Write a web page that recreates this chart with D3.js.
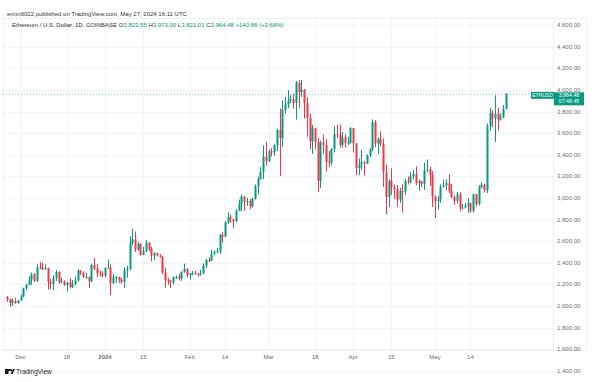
<!DOCTYPE html>
<html>
<head>
<meta charset="utf-8">
<script src="https://cdn.jsdelivr.net/npm/d3@7"></script>
<style>
  html, body { margin: 0; padding: 0; background: #fff; }
  svg { display: block; font-family: "Liberation Sans", Arial, sans-serif; }
</style>
</head>
<body>
<div id="chart-container"></div>
<script>
// daily candles, Nov 26 2023 -> May 27 2024
const firstDay = "2023-11-26";
const lastDay = "2024-05-27";

const opens = [
  2083, 2063, 2027, 2048, 2029,
  2052, 2088, 2165, 2194, 2243, 2293, 2233, 2358, 2357, 2341, 2352, 2225, 2203, 2260, 2316, 2220,
  2228, 2195, 2218, 2177, 2200, 2238, 2326, 2307, 2270, 2270, 2231, 2379, 2347, 2300, 2293,
  2282, 2352, 2356, 2210, 2268, 2268, 2240, 2222, 2330, 2344, 2585, 2617, 2522, 2576, 2472,
  2511, 2587, 2528, 2467, 2490, 2469, 2455, 2313, 2239, 2235, 2218, 2267, 2268, 2256, 2317, 2343,
  2283, 2304, 2309, 2297, 2290, 2301, 2373, 2425, 2420, 2486, 2503, 2506, 2659, 2642, 2777,
  2823, 2804, 2785, 2881, 2944, 3014, 2966, 2971, 2922, 2993, 3112, 3176, 3243, 3385,
  3340, 3432, 3421, 3488, 3630, 3554, 3817, 3868, 3900, 3915, 3880, 4067, 3981, 4004, 3882,
  3741, 3525, 3645, 3519, 3160, 3516, 3492, 3334, 3330, 3454, 3590, 3585, 3492, 3561, 3508, 3508,
  3647, 3505, 3278, 3310, 3330, 3318, 3395, 3450, 3703, 3505, 3545, 3503, 3240, 3010, 3156,
  3100, 3083, 2985, 3065, 3058, 3156, 3147, 3200, 3220, 3140, 3156, 3130, 3255, 3263, 3215,
  3014, 2970, 2988, 3103, 3118, 3137, 3062, 3008, 2973, 3035, 2910, 2912, 2930, 2950, 2882,
  3034, 2945, 3094, 3123, 3072, 3664, 3788, 3737, 3779, 3727, 3747, 3823.55
];
const highs = [
  2092, 2070, 2068, 2074, 2054,
  2107, 2169, 2205, 2275, 2309, 2307, 2385, 2405, 2403, 2386, 2355, 2249, 2286, 2333, 2322,
  2263, 2238, 2222, 2257, 2240, 2272, 2344, 2333, 2321, 2309, 2272, 2392, 2445, 2387, 2325, 2322,
  2357, 2431, 2387, 2295, 2278, 2272, 2260, 2357, 2372, 2645, 2715, 2690, 2595, 2580, 2547,
  2613, 2590, 2547, 2500, 2493, 2480, 2465, 2353, 2260, 2240, 2273, 2281, 2298, 2320, 2392, 2350,
  2306, 2323, 2327, 2306, 2334, 2394, 2436, 2450, 2523, 2515, 2538, 2666, 2687, 2784, 2868,
  2848, 2808, 2895, 2985, 3033, 3016, 3001, 2991, 3000, 3125, 3198, 3288, 3487, 3521,
  3450, 3461, 3497, 3640, 3829, 3905, 3937, 3998, 3952, 3966, 4082, 4092, 4093, 4009, 3932,
  3781, 3678, 3651, 3554, 3531, 3587, 3545, 3437, 3460, 3664, 3676, 3680, 3610, 3590, 3567, 3655,
  3650, 3507, 3367, 3445, 3342, 3405, 3463, 3728, 3721, 3563, 3617, 3552, 3308, 3171, 3275,
  3125, 3120, 3094, 3127, 3175, 3198, 3239, 3260, 3292, 3172, 3160, 3328, 3356, 3289, 3250,
  3024, 3015, 3125, 3170, 3172, 3220, 3129, 3023, 3057, 3053, 2945, 2955, 2998, 2958, 3040,
  3041, 3120, 3145, 3130, 3690, 3835, 3815, 3950, 3835, 3783, 3860, 3973
];
const lows = [
  2037, 1992, 2001, 2020, 2020,
  2050, 2084, 2148, 2192, 2198, 2221, 2224, 2343, 2332, 2335, 2151, 2158, 2145, 2233, 2205,
  2212, 2187, 2135, 2162, 2166, 2193, 2227, 2287, 2261, 2250, 2168, 2221, 2334, 2268, 2273, 2265,
  2265, 2350, 2100, 2205, 2215, 2212, 2205, 2166, 2263, 2331, 2562, 2500, 2511, 2465, 2471,
  2500, 2508, 2415, 2427, 2458, 2448, 2297, 2168, 2197, 2168, 2200, 2249, 2237, 2234, 2309, 2264,
  2244, 2284, 2289, 2271, 2282, 2296, 2351, 2408, 2416, 2470, 2490, 2482, 2587, 2637, 2762,
  2768, 2720, 2778, 2880, 2877, 2880, 2926, 2895, 2911, 2985, 3037, 3172, 3175, 3300,
  3335, 3384, 3393, 3434, 3206, 3473, 3782, 3831, 3880, 3826, 3726, 3835, 3936, 3735, 3567,
  3451, 3408, 3451, 3056, 3092, 3410, 3245, 3288, 3302, 3421, 3555, 3465, 3468, 3466, 3490, 3505,
  3423, 3211, 3212, 3261, 3208, 3314, 3380, 3432, 3472, 3410, 3480, 3101, 2850, 2915, 3030,
  2994, 2920, 2955, 2866, 3030, 3125, 3135, 3175, 3120, 3070, 3100, 3075, 3240, 3110, 2915,
  2813, 2894, 2955, 3095, 3071, 3045, 3000, 2938, 2950, 2875, 2895, 2903, 2864, 2865, 2865,
  2923, 2932, 3090, 3050, 3046, 3622, 3655, 3520, 3625, 3716, 3740, 3821.01
];
const closes = [
  2063, 2027, 2048, 2029, 2052,
  2088, 2165, 2194, 2243, 2293, 2233, 2358, 2357, 2341, 2352, 2225, 2203, 2260, 2316, 2220,
  2228, 2195, 2218, 2177, 2200, 2238, 2326, 2307, 2270, 2270, 2231, 2379, 2347, 2300, 2293, 2282,
  2352, 2356, 2210, 2268, 2268, 2240, 2222, 2330, 2344, 2585, 2617, 2522, 2576, 2472, 2511,
  2587, 2528, 2467, 2490, 2469, 2455, 2313, 2239, 2235, 2218, 2267, 2268, 2256, 2317, 2343, 2283,
  2304, 2309, 2297, 2290, 2301, 2373, 2425, 2420, 2486, 2503, 2506, 2659, 2642, 2777, 2823,
  2804, 2785, 2881, 2944, 3014, 2966, 2971, 2922, 2993, 3112, 3176, 3243, 3385, 3340,
  3432, 3421, 3488, 3630, 3554, 3817, 3868, 3900, 3915, 3880, 4067, 3981, 4004, 3882, 3741,
  3525, 3645, 3519, 3160, 3516, 3492, 3334, 3330, 3454, 3590, 3585, 3492, 3561, 3508, 3508, 3647,
  3505, 3278, 3310, 3330, 3318, 3395, 3450, 3703, 3505, 3545, 3503, 3240, 3010, 3156, 3100,
  3083, 2985, 3065, 3058, 3156, 3147, 3200, 3220, 3140, 3156, 3130, 3255, 3263, 3215, 3014,
  2970, 2988, 3103, 3118, 3137, 3062, 3008, 2973, 3035, 2910, 2912, 2930, 2950, 2882, 3034,
  2945, 3094, 3123, 3072, 3664, 3788, 3737, 3779, 3727, 3747, 3825, 3964.48
];

const priceTicks = [4600, 4400, 4200, 4000, 3800, 3600, 3400, 3200, 3000, 2800, 2600, 2400, 2200, 2000, 1800, 1600, 1400];
const timeTicks = ["2023-12-01", "2023-12-18", "2024-01-01", "2024-01-15", "2024-02-01", "2024-02-14",
                   "2024-03-01", "2024-03-18", "2024-04-01", "2024-04-15", "2024-05-01", "2024-05-14"];
const timeLabels = ["Dec", "18", "2024", "15", "Feb", "14", "Mar", "18", "Apr", "15", "May", "14"];

const headerLine = "ermn6022 published on TradingView.com, May 27, 2024 16:11 UTC";
const symbolName = "Ethereum / U.S. Dollar, 1D, COINBASE";
const ohlcLabels = [["O", "3,823.55"], ["H", "3,973.00"], ["L", "3,821.01"], ["C", "3,964.48"]];
const changeText = "+140.88 (+3.68%)";
const lastPrice = 3964.48;
const countdown = "07:48:45";

const up = "#089981";
const down = "#f23645";

const width = 600;
const height = 382;
const plotLeft = 3, plotRight = 553, plotTop = 18, plotBottom = 350;

const parse = d3.utcParse("%Y-%m-%d");
const days = d3.utcDay.range(parse(firstDay), d3.utcDay.offset(parse(lastDay), 1));
const data = days.map((d, i) => ({ date: d, o: opens[i], h: highs[i], l: lows[i], c: closes[i] }));

const x = d3.scaleUtc()
  .domain([parse("2023-12-01"), parse("2024-05-01")])
  .range([20.5, 435]);

const y = d3.scaleLinear()
  .domain([4000, 2000])
  .range([90, 306]);

const svg = d3.select("#chart-container")
  .append("svg")
  .attr("width", width)
  .attr("height", height);

// grid
const grid = svg.append("g");
grid.selectAll("line.h")
  .data(priceTicks)
  .enter()
  .append("line")
  .attr("x1", plotLeft).attr("x2", plotRight)
  .attr("y1", d => Math.round(y(d)) + 0.5).attr("y2", d => Math.round(y(d)) + 0.5)
  .attr("stroke", "#f3f4f8");

grid.selectAll("line.v")
  .data(timeTicks)
  .enter()
  .append("line")
  .attr("x1", d => Math.round(x(parse(d))) + 0.5).attr("x2", d => Math.round(x(parse(d))) + 0.5)
  .attr("y1", plotTop).attr("y2", plotBottom)
  .attr("stroke", "#f3f4f8");

svg.append("rect")
  .attr("x", plotLeft + 0.5).attr("y", plotTop + 0.5)
  .attr("width", 586 - plotLeft).attr("height", plotBottom - plotTop)
  .attr("fill", "none")
  .attr("stroke", "#eef0f4");

svg.append("line")
  .attr("x1", plotRight + 0.5).attr("x2", plotRight + 0.5)
  .attr("y1", plotTop).attr("y2", plotBottom)
  .attr("stroke", "#eef0f4");

// last price dotted line
svg.append("line")
  .attr("x1", plotLeft).attr("x2", 531)
  .attr("y1", Math.round(y(lastPrice)) + 0.5).attr("y2", Math.round(y(lastPrice)) + 0.5)
  .attr("stroke", up)
  .attr("stroke-opacity", 0.5)
  .attr("stroke-dasharray", "1,2");

// candles
const candles = svg.append("g")
  .selectAll("g")
  .data(data)
  .enter()
  .append("g");

candles.append("line")
  .attr("x1", d => Math.round(x(d.date)) + 0.5)
  .attr("x2", d => Math.round(x(d.date)) + 0.5)
  .attr("y1", d => y(d.h))
  .attr("y2", d => y(d.l))
  .attr("stroke", d => d.c >= d.o ? up : down)
  .attr("stroke-width", 1);

candles.append("rect")
  .attr("x", d => Math.round(x(d.date)) - 0.5)
  .attr("y", d => y(Math.max(d.o, d.c)))
  .attr("width", 2)
  .attr("height", d => Math.max(1, Math.abs(y(d.o) - y(d.c))))
  .attr("fill", d => d.c >= d.o ? up : down);

// price axis
svg.append("g")
  .selectAll("text")
  .data(priceTicks)
  .enter()
  .append("text")
  .attr("x", 557)
  .attr("y", d => y(d) + 2)
  .attr("font-size", 6)
  .attr("fill", "#6a6d78")
  .text(d => d3.format(",.2f")(d));

// last price tags
const tagY = y(lastPrice);
svg.append("rect")
  .attr("x", 531).attr("y", tagY - 2)
  .attr("width", 23).attr("height", 7)
  .attr("fill", up);
svg.append("text")
  .attr("x", 542.5).attr("y", tagY + 3.3)
  .attr("text-anchor", "middle")
  .attr("font-size", 5)
  .attr("fill", "#fff")
  .text("ETHUSD");
svg.append("rect")
  .attr("x", 554).attr("y", tagY - 1.5)
  .attr("width", 30).attr("height", 13)
  .attr("fill", up);
svg.append("text")
  .attr("x", 569).attr("y", tagY + 3.6)
  .attr("text-anchor", "middle")
  .attr("font-size", 5.3)
  .attr("fill", "#fff")
  .text(d3.format(",.2f")(lastPrice));
svg.append("text")
  .attr("x", 569).attr("y", tagY + 9.4)
  .attr("text-anchor", "middle")
  .attr("font-size", 5.3)
  .attr("fill", "#fff")
  .text(countdown);

// time axis
svg.append("g")
  .selectAll("text")
  .data(timeTicks)
  .enter()
  .append("text")
  .attr("x", d => x(parse(d)))
  .attr("y", 359)
  .attr("text-anchor", "middle")
  .attr("font-size", 6)
  .attr("font-weight", (d, i) => timeLabels[i] === "2024" ? "bold" : "normal")
  .attr("fill", "#6a6d78")
  .text((d, i) => timeLabels[i]);

// header
svg.append("text")
  .attr("x", 7).attr("y", 16)
  .attr("font-size", 6)
  .attr("fill", "#333")
  .text(headerLine);

const legend = svg.append("text")
  .attr("x", 12).attr("y", 27)
  .attr("font-size", 6)
  .attr("fill", "#333");
legend.append("tspan").text(symbolName + "  ");
ohlcLabels.forEach(([k, v]) => {
  legend.append("tspan").text(k);
  legend.append("tspan").attr("fill", up).text(v + " ");
});
legend.append("tspan").attr("fill", up).text(changeText);

// footer logo
const logo = svg.append("g").attr("transform", "translate(5,369)");
logo.append("rect").attr("x", 0).attr("y", 0).attr("width", 3.5).attr("height", 5).attr("fill", "#131722");
logo.append("rect").attr("x", 0).attr("y", 0).attr("width", 5).attr("height", 2).attr("fill", "#131722");
logo.append("circle").attr("cx", 6).attr("cy", 1.2).attr("r", 1.1).attr("fill", "#131722");
logo.append("path").attr("d", "M5.5,5 L8,0 L10,0 L7.5,5 Z").attr("fill", "#131722");
svg.append("text")
  .attr("x", 16).attr("y", 374)
  .attr("font-size", 6.5)
  .attr("fill", "#131722")
  .text("TradingView");
</script>
</body>
</html>
